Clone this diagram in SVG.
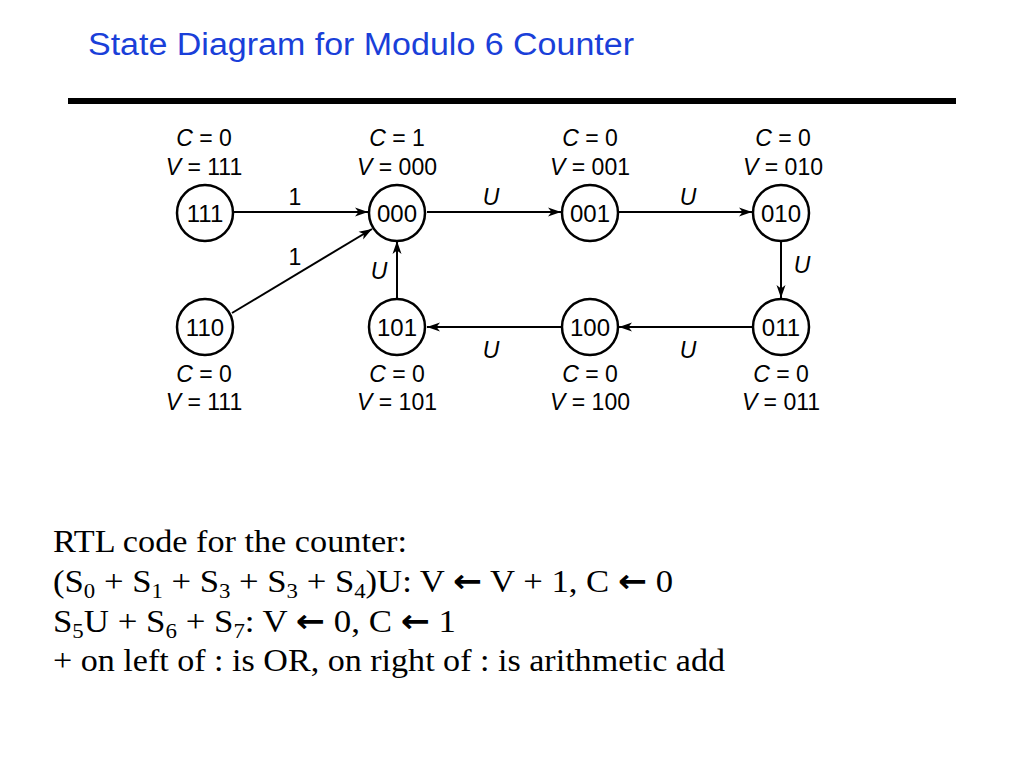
<svg xmlns="http://www.w3.org/2000/svg" width="1024" height="768" viewBox="0 0 1024 768">
<style>
.title{font-family:"Liberation Sans",Arial,sans-serif;font-size:31px;fill:#1a3fd9}
.st{fill:#fff;stroke:#000;stroke-width:2.5}
.sl{font-family:"Liberation Sans",Arial,sans-serif;font-size:24px;fill:#000;text-anchor:middle}
.lb{font-family:"Liberation Sans",Arial,sans-serif;font-size:23px;fill:#000;text-anchor:middle}
.it{font-style:italic}
.ed{stroke:#000;stroke-width:2;fill:none;marker-end:url(#ah)}
.rtl{font-family:"Liberation Serif","Times New Roman",serif;font-size:32px;fill:#000}
.ar{font-family:"DejaVu Sans",sans-serif;font-weight:bold}
</style>
<defs>
<marker id="ah" markerWidth="14" markerHeight="10" refX="13" refY="5" orient="auto" markerUnits="userSpaceOnUse">
<path d="M0,0.5 L13,5 L0,9.5 L3.5,5 z" fill="#000"/>
</marker>
</defs>
<rect width="1024" height="768" fill="#fff"/>
<text class="title" x="88" y="55" textLength="546" lengthAdjust="spacingAndGlyphs">State Diagram for Modulo 6 Counter</text>
<rect x="68" y="98" width="888" height="6" fill="#000"/>

<g id="connectors">
<line class="ed" x1="234" y1="212" x2="368" y2="212"/>
<line class="ed" x1="232" y1="313" x2="372" y2="229"/>
<line class="ed" x1="427" y1="212" x2="561" y2="212"/>
<line class="ed" x1="619" y1="212" x2="752" y2="212"/>
<line class="ed" x1="781" y1="241" x2="781" y2="298"/>
<line class="ed" x1="752" y1="327" x2="619" y2="327"/>
<line class="ed" x1="561" y1="327" x2="427" y2="327"/>
<line class="ed" x1="397" y1="298" x2="397" y2="241"/>
<text class="lb" x="295" y="205">1</text>
<text class="lb" x="295" y="265">1</text>
<text class="lb it" x="491" y="205">U</text>
<text class="lb it" x="688" y="205">U</text>
<text class="lb it" x="802" y="273">U</text>
<text class="lb it" x="379" y="279">U</text>
<text class="lb it" x="491" y="358">U</text>
<text class="lb it" x="688" y="358">U</text>
</g>

<g id="s111">
<circle class="st" cx="205" cy="213" r="28"/>
<text class="sl" x="205" y="222">111</text>
<text class="lb" x="204" y="146"><tspan class="it">C</tspan> = 0</text>
<text class="lb" x="204" y="175"><tspan class="it">V</tspan> = 111</text>
</g>
<g id="s000">
<circle class="st" cx="397" cy="213" r="28"/>
<text class="sl" x="397" y="222">000</text>
<text class="lb" x="397" y="146"><tspan class="it">C</tspan> = 1</text>
<text class="lb" x="397" y="175"><tspan class="it">V</tspan> = 000</text>
</g>
<g id="s001">
<circle class="st" cx="590" cy="213" r="28"/>
<text class="sl" x="590" y="222">001</text>
<text class="lb" x="590" y="146"><tspan class="it">C</tspan> = 0</text>
<text class="lb" x="590" y="175"><tspan class="it">V</tspan> = 001</text>
</g>
<g id="s010">
<circle class="st" cx="781" cy="213" r="28"/>
<text class="sl" x="781" y="222">010</text>
<text class="lb" x="783" y="146"><tspan class="it">C</tspan> = 0</text>
<text class="lb" x="783" y="175"><tspan class="it">V</tspan> = 010</text>
</g>
<g id="s110">
<circle class="st" cx="205" cy="327" r="28"/>
<text class="sl" x="205" y="336">110</text>
<text class="lb" x="204" y="382"><tspan class="it">C</tspan> = 0</text>
<text class="lb" x="204" y="410"><tspan class="it">V</tspan> = 111</text>
</g>
<g id="s101">
<circle class="st" cx="397" cy="327" r="28"/>
<text class="sl" x="397" y="336">101</text>
<text class="lb" x="397" y="382"><tspan class="it">C</tspan> = 0</text>
<text class="lb" x="397" y="410"><tspan class="it">V</tspan> = 101</text>
</g>
<g id="s100">
<circle class="st" cx="590" cy="327" r="28"/>
<text class="sl" x="590" y="336">100</text>
<text class="lb" x="590" y="382"><tspan class="it">C</tspan> = 0</text>
<text class="lb" x="590" y="410"><tspan class="it">V</tspan> = 100</text>
</g>
<g id="s011">
<circle class="st" cx="781" cy="327" r="28"/>
<text class="sl" x="781" y="336">011</text>
<text class="lb" x="781" y="382"><tspan class="it">C</tspan> = 0</text>
<text class="lb" x="781" y="410"><tspan class="it">V</tspan> = 011</text>
</g>

<g id="rtl">
<text class="rtl" x="53" y="552" textLength="354" lengthAdjust="spacingAndGlyphs">RTL code for the counter:</text>
<text class="rtl" x="53" y="592" textLength="620" lengthAdjust="spacingAndGlyphs">(S<tspan dy="6" font-size="21">0</tspan><tspan dy="-6"> + S</tspan><tspan dy="6" font-size="21">1</tspan><tspan dy="-6"> + S</tspan><tspan dy="6" font-size="21">3</tspan><tspan dy="-6"> + S</tspan><tspan dy="6" font-size="21">3</tspan><tspan dy="-6"> + S</tspan><tspan dy="6" font-size="21">4</tspan><tspan dy="-6">)U: V </tspan><tspan class="ar">←</tspan> V + 1, C <tspan class="ar">←</tspan> 0</text>
<text class="rtl" x="53" y="632" textLength="403" lengthAdjust="spacingAndGlyphs">S<tspan dy="6" font-size="21">5</tspan><tspan dy="-6">U + S</tspan><tspan dy="6" font-size="21">6</tspan><tspan dy="-6"> + S</tspan><tspan dy="6" font-size="21">7</tspan><tspan dy="-6">: V </tspan><tspan class="ar">←</tspan> 0, C <tspan class="ar">←</tspan> 1</text>
<text class="rtl" x="53" y="671" textLength="672" lengthAdjust="spacingAndGlyphs">+ on left of : is OR, on right of : is arithmetic add</text>
</g>
</svg>
